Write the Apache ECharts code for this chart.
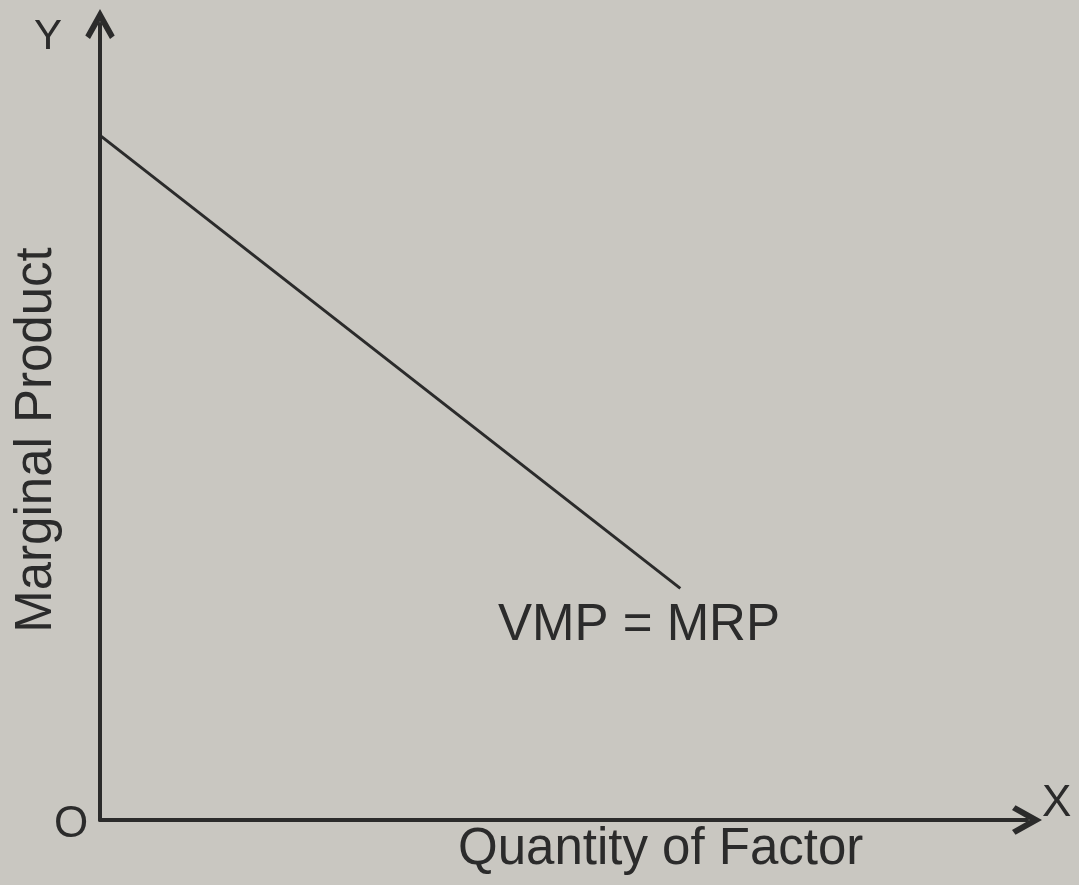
<!DOCTYPE html>
<html>
<head>
<meta charset="utf-8">
<script src="https://cdn.jsdelivr.net/npm/echarts@6/dist/echarts.min.js"></script>
<style>
html, body { margin: 0; padding: 0; background: #c9c7c1; }
#chart { width: 1079px; height: 885px; }
</style>
</head>
<body>
<div id="chart"></div>
<script>
// VMP = MRP curve (x: quantity of factor, y: marginal product)
var curveX = [0, 6.26]
var curveY = [8.6, 2.91]
var curveName = 'VMP = MRP'
var xName = 'Quantity of Factor'
var yName = 'Marginal Product'

var ink = '#2b2b2b'
var font = '"Liberation Sans", Arial, sans-serif'
// open chevron arrow head, like the hand-drawn one
var chevron = 'path://M0,9 L5,0 L10,9 L8.4,10.2 L5,4.2 L1.6,10.2 Z'

var chart = echarts.init(document.getElementById('chart'))
var option = {
  backgroundColor: '#c9c7c1',
  animation: false,
  grid: { left: 100, right: 52, top: 24, bottom: 65 },
  xAxis: {
    type: 'value',
    min: 0,
    max: 10,
    axisLine: {
      show: true,
      symbol: ['none', chevron],
      symbolSize: [36, 30],
      lineStyle: { color: ink, width: 4 }
    },
    axisTick: { show: false },
    axisLabel: { show: false },
    splitLine: { show: false }
  },
  yAxis: {
    type: 'value',
    min: 0,
    max: 10,
    axisLine: {
      show: true,
      symbol: ['none', chevron],
      symbolSize: [36, 30],
      lineStyle: { color: ink, width: 4 }
    },
    axisTick: { show: false },
    axisLabel: { show: false },
    splitLine: { show: false }
  },
  series: [
    {
      name: curveName,
      type: 'line',
      symbol: 'none',
      lineStyle: { color: ink, width: 3 },
      data: curveX.map(function (x, i) { return [x, curveY[i]] })
    }
  ],
  graphic: [
    { type: 'text', left: 34, top: 16, style: { text: 'Y', font: '42px ' + font, fill: ink } },
    { type: 'text', left: 1042, top: 782, style: { text: 'X', font: '44px ' + font, fill: ink } },
    { type: 'text', left: 54, top: 803, style: { text: 'O', font: '44px ' + font, fill: ink } },
    { type: 'text', left: 498, top: 600, style: { text: curveName, font: '51px ' + font, fill: ink } },
    { type: 'text', left: 458, top: 824, style: { text: xName, font: '51px ' + font, fill: ink } },
    {
      type: 'text',
      x: 37,
      y: 440,
      rotation: Math.PI / 2,
      style: { text: yName, font: '51px ' + font, fill: ink, align: 'center', verticalAlign: 'middle' }
    }
  ]
}
chart.setOption(option)
window.addEventListener('resize', function () {
  chart.resize()
})
</script>
</body>
</html>
